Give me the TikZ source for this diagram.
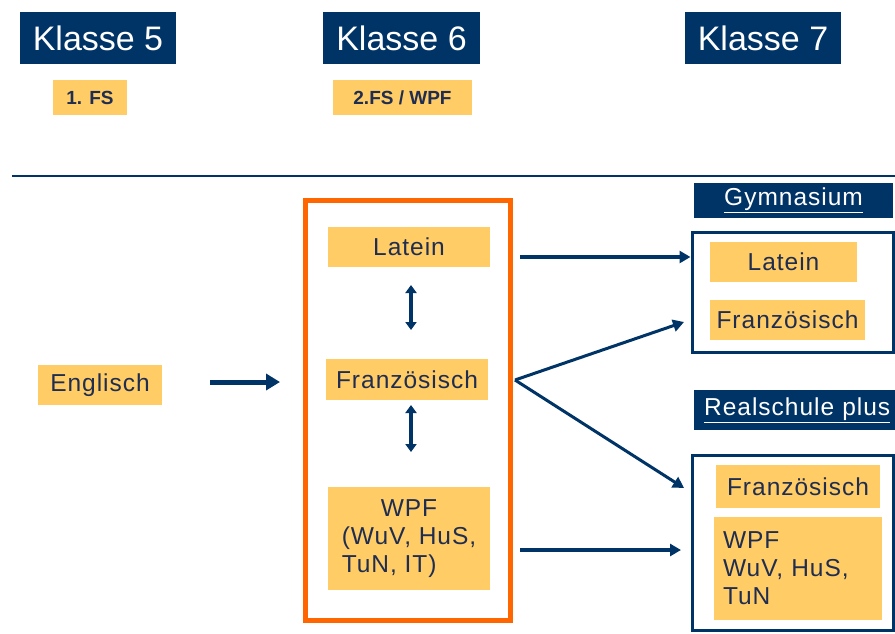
\documentclass[tikz,border=0pt]{standalone}
\usepackage{fontspec}
\setmainfont{Liberation Sans}
\usetikzlibrary{arrows.meta}
\definecolor{navy}{RGB}{0,51,102}
\definecolor{ytxt}{RGB}{31,45,80}
\definecolor{ybox}{RGB}{255,204,102}
\definecolor{oran}{RGB}{255,102,0}
\begin{document}
\begin{tikzpicture}[x=1pt,y=-1pt,
  hdr/.style={fill=navy,text=white,inner sep=0pt,font=\fontsize{34}{36}\selectfont},
  sub/.style={fill=navy,text=white,inner sep=0pt,font=\fontsize{24.5}{26}\selectfont\addfontfeatures{LetterSpace=4}},
  ybx/.style={fill=ybox,text=ytxt,inner sep=0pt,font=\fontsize{24.5}{28}\selectfont\addfontfeatures{LetterSpace=4}},
  ysm/.style={fill=ybox,text=ytxt,inner sep=0pt,font=\fontsize{19}{22}\selectfont\bfseries},
  frm/.style={draw=navy,line width=3pt,inner sep=0pt},
  arr/.style={draw=navy,line width=3.5pt,-{Triangle[length=11pt,width=12pt]}},
  farr/.style={draw=navy,line width=3pt,-{Triangle[length=11pt,width=12pt]}},
  barr/.style={draw=navy,line width=3.5pt,{Triangle[length=8pt,width=11pt]}-{Triangle[length=8pt,width=11pt]}},
  earr/.style={draw=navy,line width=5pt,-{Triangle[length=14pt,width=16pt]}}]
\useasboundingbox (0,0) rectangle (895,633);
% headers
\node[hdr,minimum width=156pt,minimum height=52pt] (k5) at (98,38) {Klasse 5};
\node[hdr,minimum width=157pt,minimum height=52pt] (k6) at (401.5,38) {Klasse 6};
\node[hdr,minimum width=156pt,minimum height=52pt] (k7) at (763,38) {Klasse 7};
\node[ysm,minimum width=74pt,minimum height=35pt] (fs1) at (90,97.5) {1. FS};
\node[ysm,minimum width=139pt,minimum height=35pt] (fs2) at (402.5,97.5) {2.FS / WPF};
% separator line
\coordinate (l1) at (12,176);
\coordinate (l2) at (895,176);
\draw[navy,line width=2.5pt] (l1) -- (l2);
% left
\node[ybx,minimum width=124pt,minimum height=40pt] (en) at (100,385) {Englisch};
% middle frame
\node[draw=oran,line width=5pt,minimum width=205pt,minimum height=420pt,inner sep=0pt] (of) at (407.5,410) {};
\node[ybx,minimum width=162pt,minimum height=40pt] (ml) at (409,247) {Latein};
\node[ybx,minimum width=162pt,minimum height=41pt] (mf) at (407,379.5) {Französisch};
\node[ybx,minimum width=162pt,minimum height=103pt] (mw) at (409,538.5)
  {\begin{tabular}{@{}l@{}}\multicolumn{1}{@{}c@{}}{WPF}\\(WuV, HuS,\\TuN, IT)\end{tabular}};
% right: Gymnasium
\node[sub,minimum width=199pt,minimum height=35pt] (gh) at (793.5,200.5) {\underline{Gymnasium}};
\node[frm,minimum width=201pt,minimum height=120pt] (gf) at (792.5,292) {};
\node[ybx,minimum width=147pt,minimum height=40pt] (gl) at (783.5,262) {Latein};
\node[ybx,minimum width=155pt,minimum height=40pt] (gfr) at (787.5,320) {Französisch};
% right: Realschule plus
\node[sub,minimum height=40pt,anchor=west,text width=201pt,inner xsep=0pt,align=left] (rh) at (694,410) {\hspace*{10pt}\underline{Realschule plus}};
\node[frm,minimum width=201pt,minimum height=175pt] (rf) at (792.5,542.5) {};
\node[ybx,minimum width=164pt,minimum height=43pt] (rfr) at (798,486.5) {Französisch};
\node[ybx,minimum width=168pt,minimum height=103pt,align=left,text width=150pt] (rw) at (798,568.5) {WPF\\WuV, HuS,\\TuN};
% arrows
\coordinate (ea) at (210,382);
\coordinate (eb) at (280,382);
\draw[earr] (ea) -- (eb);
\coordinate (d1a) at (411,285);
\coordinate (d1b) at (411,330);
\coordinate (d2a) at (411,405);
\coordinate (d2b) at (411,452);
\draw[barr] (d1a) -- (d1b);
\draw[barr] (d2a) -- (d2b);
\coordinate (a1) at (520,257);
\coordinate (fork) at (515,380);
\coordinate (t2) at (684,322);
\coordinate (t3) at (684,488);
\coordinate (a4) at (520,550);
\coordinate (t4) at (681,550);
\draw[arr] (a1) -- (gf.west |- a1);
\draw[farr] (fork) -- (t2);
\draw[farr] (fork) -- (t3);
\draw[arr] (a4) -- (t4);
\end{tikzpicture}
\end{document}
